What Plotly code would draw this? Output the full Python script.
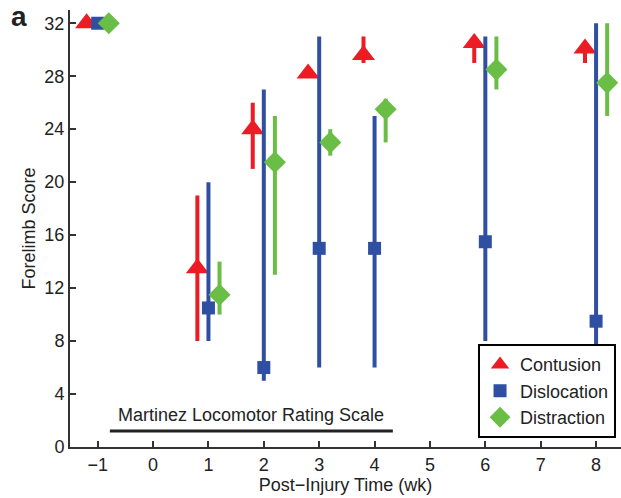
import plotly.graph_objects as go

# Weeks after injury (-1 = pre-injury baseline)
weeks = [-1, 1, 2, 3, 4, 6, 8]
x_ticks = [-1, 0, 1, 2, 3, 4, 5, 6, 7, 8]
x_tick_labels = ["\u22121", "0", "1", "2", "3", "4", "5", "6", "7", "8"]
y_ticks = [0, 4, 8, 12, 16, 20, 24, 28, 32]

# Median forelimb score and range (low / high) per injury model
contusion_mid = [32, 13.5, 24, 28.2, 29.6, 30.5, 30.1]
contusion_low = [32, 8, 21, 28.2, 29, 29, 29]
contusion_high = [32, 19, 26, 28.2, 31, 30.5, 30.1]

dislocation_mid = [32, 10.5, 6, 15, 15, 15.5, 9.5]
dislocation_low = [32, 8, 5, 6, 6, 8, 6]
dislocation_high = [32, 20, 27, 31, 25, 31, 32]

distraction_mid = [32, 11.5, 21.5, 23, 25.5, 28.5, 27.5]
distraction_low = [32, 10, 13, 22, 23, 27, 25]
distraction_high = [32, 14, 25, 24, 26.3, 31, 32]

series = [
    ("Contusion", contusion_mid, contusion_low, contusion_high, -0.2, "#ED1C24", "triangle-up", 20),
    ("Dislocation", dislocation_mid, dislocation_low, dislocation_high, 0.0, "#2F4FA2", "square", 13),
    ("Distraction", distraction_mid, distraction_low, distraction_high, 0.2, "#6ABD45", "diamond", 17),
]

fig = go.Figure()
for name, mid, low, high, offset, color, symbol, size in series:
    fig.add_trace(go.Scatter(
        x=[w + offset for w in weeks],
        y=mid,
        mode="markers",
        name=name,
        marker=dict(symbol=symbol, size=size, color=color, line=dict(width=0)),
        error_y=dict(
            type="data",
            symmetric=False,
            array=[h - m for h, m in zip(high, mid)],
            arrayminus=[m - l for m, l in zip(mid, low)],
            color=color,
            thickness=4,
            width=0,
        ),
    ))

# Scale label with underline
fig.add_shape(type="line", xref="x", yref="y", x0=-0.78, x1=4.33, y0=1.2, y1=1.2,
              line=dict(color="#222222", width=3))
fig.add_annotation(x=1.77, y=2.4, xref="x", yref="y", text="Martinez Locomotor Rating Scale",
                   showarrow=False, font=dict(size=18, color="#222222"))

# Panel letter
fig.add_annotation(x=-0.092, y=0.985, xref="paper", yref="paper", text="<b>a</b>",
                   showarrow=False, font=dict(size=28, color="#222222"),
                   xanchor="center", yanchor="middle")

fig.update_layout(
    width=621, height=498,
    margin=dict(l=70, r=0, t=10, b=51),
    paper_bgcolor="white", plot_bgcolor="white",
    font=dict(family="Liberation Sans, Arial, sans-serif", size=18, color="#222222"),
    showlegend=True,
    legend=dict(
        x=0.991, y=0.02, xanchor="right", yanchor="bottom",
        bordercolor="black", borderwidth=2, bgcolor="white",
        font=dict(size=18), tracegroupgap=0, itemwidth=30,
    ),
)

fig.update_xaxes(
    range=[-1.5, 8.45], tickmode="array", tickvals=x_ticks, ticktext=x_tick_labels,
    ticks="inside", ticklen=6, tickwidth=2, tickcolor="#333333",
    showline=True, linecolor="#333333", linewidth=2, showgrid=False, zeroline=False,
    title=dict(text="Post\u2212Injury Time (wk)", standoff=0, font=dict(size=18)),
)
fig.update_yaxes(
    range=[0, 33], tickmode="array", tickvals=y_ticks,
    ticks="inside", ticklen=6, tickwidth=2, tickcolor="#333333",
    showline=True, linecolor="#333333", linewidth=2, showgrid=False, zeroline=False,
    title=dict(text="Forelimb Score", standoff=4, font=dict(size=18)),
)

fig.write_html("out.html")
